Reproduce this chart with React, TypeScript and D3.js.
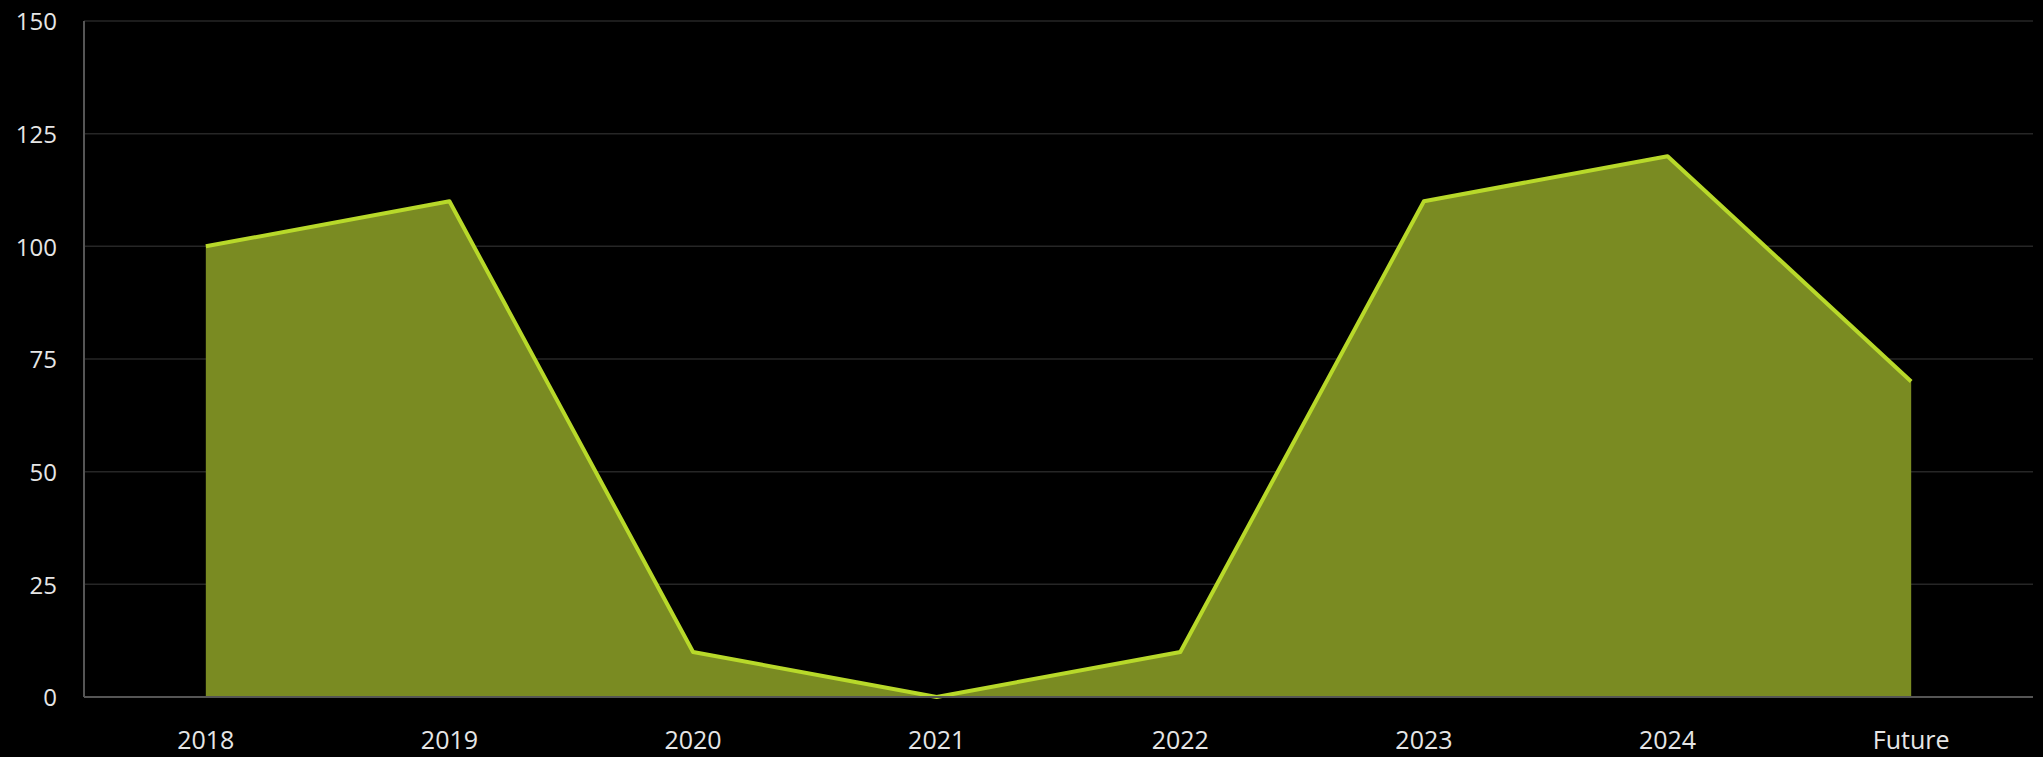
import * as React from "react";
import * as d3 from "d3";

const categories = ["2018", "2019", "2020", "2021", "2022", "2023", "2024", "Future"];
const values = [100, 110, 10, 0, 10, 110, 120, 70];
const yTicks = [0, 25, 50, 75, 100, 125, 150];

const W = 2043;
const H = 757;

const App: React.FC = () => {
    const svgRef = React.useRef<SVGSVGElement | null>(null);

    React.useEffect(() => {
        document.body.style.margin = "0";
        document.body.style.background = "#000";
        if (!svgRef.current) return;

        const svg = d3.select(svgRef.current);
        svg.selectAll("*").remove();

        const margin = { top: 21, right: 10, bottom: 60, left: 84 };
        const width = W - margin.left - margin.right;
        const height = H - margin.top - margin.bottom;

        const x = d3.scalePoint<string>()
            .domain(categories)
            .range([0, width])
            .padding(0.5);

        const y = d3.scaleLinear()
            .domain([0, 150])
            .range([height, 0]);

        const g = svg.append("g")
            .attr("transform", `translate(${margin.left},${margin.top})`);

        // gridlines
        g.append("g")
            .selectAll("line")
            .data(yTicks.filter(t => t > 0))
            .enter().append("line")
            .attr("x1", 0)
            .attr("x2", width)
            .attr("y1", d => y(d))
            .attr("y2", d => y(d))
            .attr("stroke", "#262626")
            .attr("stroke-width", 1.5);

        const data = categories.map((c, i) => ({ c, v: values[i] }));

        const area = d3.area<{ c: string; v: number }>()
            .x(d => x(d.c)!)
            .y0(y(0))
            .y1(d => y(d.v));

        const line = d3.line<{ c: string; v: number }>()
            .x(d => x(d.c)!)
            .y(d => y(d.v));

        g.append("path")
            .datum(data)
            .attr("d", area)
            .attr("fill", "#7a8b22");

        g.append("path")
            .datum(data)
            .attr("d", line)
            .attr("fill", "none")
            .attr("stroke", "#b8d92a")
            .attr("stroke-width", 4)
            .attr("stroke-linejoin", "round");

        // axis lines
        g.append("line")
            .attr("x1", 0).attr("x2", 0)
            .attr("y1", 0).attr("y2", height)
            .attr("stroke", "#555")
            .attr("stroke-width", 2);
        g.append("line")
            .attr("x1", 0).attr("x2", width)
            .attr("y1", height).attr("y2", height)
            .attr("stroke", "#555")
            .attr("stroke-width", 2);

        // y labels
        g.append("g")
            .selectAll("text")
            .data(yTicks)
            .enter().append("text")
            .attr("x", -27)
            .attr("y", d => y(d) + 1)
            .attr("dy", ".35em")
            .attr("text-anchor", "end")
            .attr("fill", "#e6e6e6")
            .attr("font-family", "'Open Sans', sans-serif")
            .attr("font-size", 24)
            .text(d => d);

        // x labels
        g.append("g")
            .selectAll("text")
            .data(categories)
            .enter().append("text")
            .attr("x", d => x(d)!)
            .attr("y", height + 52)
            .attr("text-anchor", "middle")
            .attr("fill", "#e6e6e6")
            .attr("font-family", "'Open Sans', sans-serif")
            .attr("font-size", 25)
            .text(d => d);
    }, []);

    return (
        <svg ref={svgRef} width={W} height={H} style={{ display: "block", background: "#000" }} />
    );
};

export default App;
